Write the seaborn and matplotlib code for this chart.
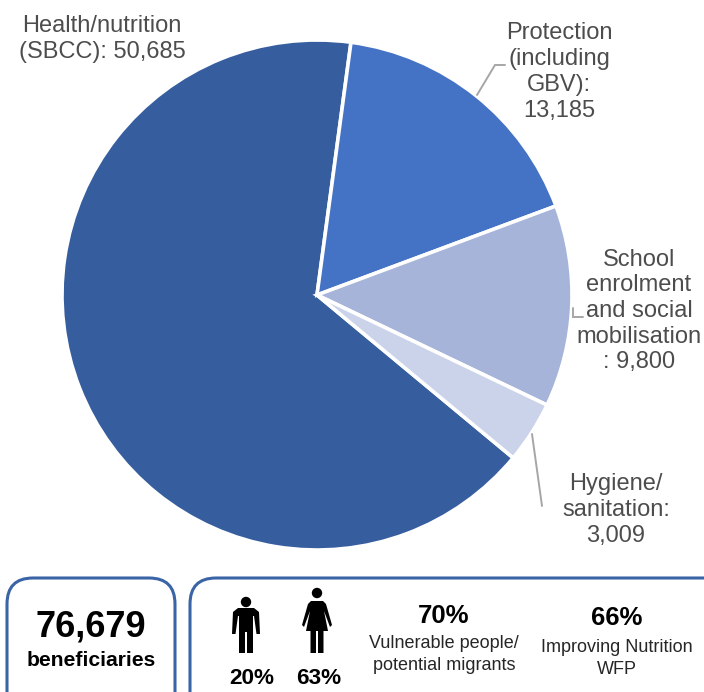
import matplotlib
matplotlib.use("Agg")
import matplotlib.pyplot as plt
from matplotlib.patches import FancyBboxPatch, Circle, Polygon
import seaborn as sns

sns.set_theme(style="white")
plt.rcParams["font.family"] = ["Liberation Sans", "DejaVu Sans"]

# Beneficiaries by activity
activities = ["Health/nutrition\n(SBCC): ", "Protection\n(including\nGBV):\n",
              "School\nenrolment\nand social\nmobilisation\n: ", "Hygiene/\nsanitation:\n"]
beneficiaries = [50685, 13185, 9800, 3009]
slice_colors = ["#365E9F", "#4472C4", "#A6B4DA", "#CBD3EA"]

total_label = "76,679"
total_caption = "beneficiaries"
men_share = "20%"
women_share = "63%"
vulnerable_share = "70%"
vulnerable_caption = ["Vulnerable people/", "potential migrants"]
nutrition_share = "66%"
nutrition_caption = ["Improving Nutrition", "WFP"]

W, H = 704, 692
TEXT = "#4d4d4d"
LEADER = "#a6a6a6"
FRAME = "#3A64A6"


def Y(py):
    """Convert a top-down pixel row to the upward axis coordinate."""
    return H - py


fig = plt.figure(figsize=(W / 100, H / 100), dpi=100)
ax = fig.add_axes([0, 0, 1, 1])

ax.pie(beneficiaries, colors=slice_colors, center=(317, Y(295)), radius=255,
       startangle=-39.7, counterclock=False,
       wedgeprops=dict(edgecolor="white", linewidth=2.6))
ax.set_xlim(0, W)
ax.set_ylim(0, H)
ax.set_aspect("equal")
ax.axis("off")

# Slice labels, centred on their text blocks
label_anchors = [(102, 39), (559, 72), (639, 311), (616, 510)]
for name, value, (lx, ly) in zip(activities, beneficiaries, label_anchors):
    ax.text(lx, Y(ly), f"{name}{value:,}", ha="center", va="center",
            fontsize=17, color=TEXT, linespacing=1.22)

# Leader lines
for xs, ys in [((477, 495, 505), (95, 65, 65)),
               ((573, 573, 583), (308, 317, 317)),
               ((532, 542), (434, 506))]:
    ax.plot(xs, [Y(v) for v in ys], color=LEADER, lw=1.4, solid_joinstyle="miter")


def frame(x0, x1, top, bottom):
    ax.add_patch(FancyBboxPatch((x0 + 26, Y(bottom) + 26), x1 - x0 - 52, bottom - top - 52,
                                boxstyle="round,pad=26,rounding_size=26",
                                fc="white", ec=FRAME, lw=2.2, zorder=2))


frame(7, 175, 578, 730)
frame(190, 760, 578, 730)


def person_man(cx, top, bottom):
    ax.add_patch(Circle((cx, Y(top + 5)), 5.2, fc="black", ec="none", zorder=3))
    s = top + 11
    outline = [(-8, s), (8, s), (13, s + 4), (14, s + 26), (10.5, s + 26), (8, s + 8),
               (7, s + 8), (7, bottom), (1, bottom), (1, s + 24), (-1, s + 24),
               (-1, bottom), (-7, bottom), (-7, s + 8), (-8, s + 8), (-10.5, s + 26),
               (-14, s + 26), (-13, s + 4)]
    ax.add_patch(Polygon([(cx + dx, Y(py)) for dx, py in outline], fc="black", ec="none", zorder=3))


def person_woman(cx, top, bottom):
    ax.add_patch(Circle((cx, Y(top + 5)), 5.2, fc="black", ec="none", zorder=3))
    s = top + 13
    outline = [(-6, s), (6, s), (9, s + 3), (15, s + 24), (13, s + 26), (7, s + 10),
               (11, s + 30), (6.5, s + 30), (6.5, bottom), (1, bottom), (1, s + 30),
               (-1, s + 30), (-1, bottom), (-6.5, bottom), (-6.5, s + 30), (-11, s + 30),
               (-7, s + 10), (-13, s + 26), (-15, s + 24), (-9, s + 3)]
    ax.add_patch(Polygon([(cx + dx, Y(py)) for dx, py in outline], fc="black", ec="none", zorder=3))


person_man(246, 597, 653)
person_woman(317, 588, 653)


def note(x, y, s, size, weight="normal", color="black"):
    ax.text(x, Y(y), s, ha="center", va="center", fontsize=size,
            fontweight=weight, color=color, zorder=4)


note(91, 627, total_label, 26, "bold")
note(91, 661, total_caption, 15.2, "bold")
note(252, 678, men_share, 16.2, "bold")
note(319, 678, women_share, 16.2, "bold")
note(444, 616, vulnerable_share, 18.5, "bold")
note(444, 643, vulnerable_caption[0], 13, color="#262626")
note(444, 666, vulnerable_caption[1], 13, color="#262626")
note(617, 618, nutrition_share, 18.5, "bold")
note(617, 647, nutrition_caption[0], 13, color="#262626")
note(617, 670, nutrition_caption[1], 13, color="#262626")

fig.savefig("out.png", dpi=100, facecolor="white")
